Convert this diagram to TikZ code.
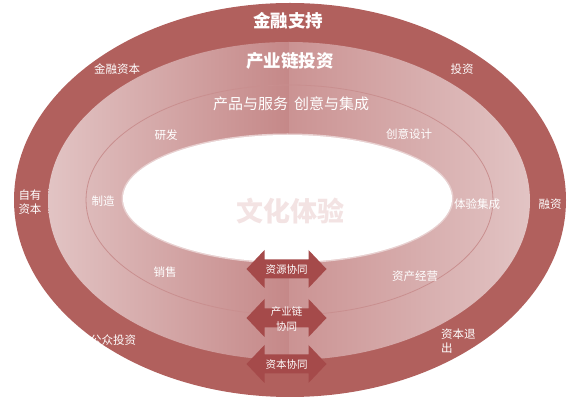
\documentclass[tikz,border=0pt]{standalone}
\usepackage{fontspec}
\newfontfamily\cjk{Noto Sans CJK SC}
\definecolor{darkband}{HTML}{B1605D}
\definecolor{arrowred}{HTML}{A54A4A}
\definecolor{lightpink}{HTML}{E2C4C4}
\definecolor{midpink}{HTML}{C58888}
\definecolor{midpinkr}{HTML}{CB9393}
\definecolor{lineclr}{HTML}{C98F8F}
\definecolor{ghost}{HTML}{F3E3E3}
\definecolor{rimclr}{HTML}{E8D0D0}
\begin{document}
\begin{tikzpicture}[x=1pt,y=-1pt,
  lbl/.style={text=white,font=\cjk\fontsize{11.5}{14}\selectfont,inner sep=0pt,align=center},
  lblleft/.style={lbl,align=left},
  title/.style={text=white,font=\cjk\bfseries\fontsize{17.5}{20}\selectfont,inner sep=0pt},
  sub/.style={text=white,font=\cjk\fontsize{15}{17}\selectfont,inner sep=0pt},
  big/.style={text=ghost,font=\cjk\bfseries\fontsize{27}{30}\selectfont,inner sep=0pt},
  arrlbl/.style={text=white,font=\cjk\fontsize{10.5}{15}\selectfont,inner sep=0pt,align=center},
  dblarr/.pic={\fill[arrowred] (-40,0) -- (-22,-19) -- (-22,-9.5) -- (22,-9.5) -- (22,-19)
     -- (40,0) -- (22,19) -- (22,9.5) -- (-22,9.5) -- (-22,19) -- cycle;}
]
\useasboundingbox (0,0) rectangle (568,403);
% outer dark band
\fill[darkband] (290,200) ellipse [x radius=276pt, y radius=197pt];
% middle gradient band
\begin{scope}
  \clip (289,201) ellipse [x radius=241pt, y radius=159pt];
  \shade[left color=lightpink, right color=midpink] (47,40) rectangle (289.5,362);
  \shade[left color=midpinkr, right color=lightpink] (289.5,40) rectangle (531,362);
\end{scope}
% thin line ellipse
\draw[lineclr, line width=0.8pt] (289.5,200) ellipse [x radius=203.5pt, y radius=115pt];
% inner white ellipse
\fill[rimclr] (287.5,198.5) ellipse [x radius=166pt, y radius=65pt];
\fill[white] (287.5,198.5) ellipse [x radius=164.5pt, y radius=63.5pt];

% titles
\node[title] (t1) at (288,21) {金融支持};
\node[title] (t2) at (290,61) {产业链投资};
\node[sub] (t3) at (291,104) {产品与服务\hspace{6pt}创意与集成};
\node[big] (t4) at (290,211) {文化体验};

% small labels
\node[lbl] (l1) at (117,69) {金融资本};
\node[lbl] (l2) at (462,69) {投资};
\node[lbl] (l3) at (166,135) {研发};
\node[lbl] (l4) at (409,134) {创意设计};
\node[lbl] (l5) at (30,202) {自有\\资本};
\node[lbl] (l6) at (103,201) {制造};
\node[lbl] (l7) at (477,204) {体验集成};
\node[lbl] (l8) at (550,204) {融资};
\node[lbl] (l9) at (165,272) {销售};
\node[lbl] (l10) at (415,276) {资产经营};
\node[lbl] (l11) at (113,340) {公众投资};
\node[lblleft, anchor=north west] (l12) at (441,329) {资本退\\出};

% double arrows
\pic at (286.5,269) {dblarr};
\pic at (286.5,318) {dblarr};
\pic at (286.5,364) {dblarr};
\node[arrlbl] (a1) at (286.5,270) {资源协同};
\node[arrlbl] (a2) at (286.5,319) {产业链\\协同};
\node[arrlbl] (a3) at (286.5,365) {资本协同};
\end{tikzpicture}
\end{document}
